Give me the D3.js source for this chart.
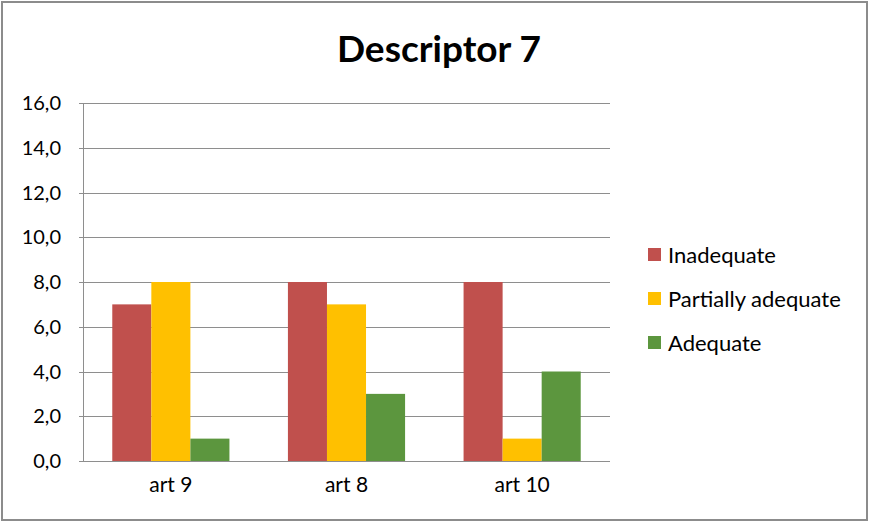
<!DOCTYPE html>
<html>
<head>
<meta charset="utf-8">
<script src="https://cdn.jsdelivr.net/npm/d3@7"></script>
<style>
  body { margin: 0; background: #fff; }
  text { font-family: Lato, "Open Sans", sans-serif; fill: #000; }
</style>
</head>
<body>
<svg id="chart" width="869" height="523"></svg>
<script>
var categories = ["art 9", "art 8", "art 10"];
var seriesNames = ["Inadequate", "Partially adequate", "Adequate"];
var inadequate = [7, 8, 8];
var partially = [8, 7, 1];
var adequate = [1, 3, 4];
var yTicks = [0, 2, 4, 6, 8, 10, 12, 14, 16];
var colors = ["#c0504d", "#ffc000", "#5c963e"];

var seriesValues = [inadequate, partially, adequate];

var svg = d3.select("#chart");

// outer frame
svg.append("rect")
    .attr("x", 2).attr("y", 2)
    .attr("width", 865).attr("height", 518)
    .attr("fill", "#fff")
    .attr("stroke", "#8c8c8c")
    .attr("stroke-width", 2);

svg.append("text")
    .attr("x", 439).attr("y", 62)
    .attr("text-anchor", "middle")
    .style("font-size", "37px")
    .style("font-weight", "bold")
    .text("Descriptor 7");

var plot = {left: 83, right: 610, top: 103, bottom: 461};

var x = d3.scaleBand()
    .domain(categories)
    .range([plot.left, plot.right])
    .paddingInner(0.333)
    .paddingOuter(0.1667);

var xInner = d3.scaleBand()
    .domain(seriesNames)
    .range([0, x.bandwidth()]);

var y = d3.scaleLinear()
    .domain([0, 16])
    .range([plot.bottom, plot.top]);

// gridlines
svg.append("g")
    .selectAll("line")
    .data(yTicks)
    .join("line")
    .attr("x1", plot.left - 4)
    .attr("x2", plot.right)
    .attr("y1", d => Math.round(y(d)) + 0.5)
    .attr("y2", d => Math.round(y(d)) + 0.5)
    .attr("stroke", "#8e8e8e")
    .attr("stroke-width", 1);

// y labels
svg.append("g")
    .selectAll("text")
    .data(yTicks)
    .join("text")
    .attr("x", 61)
    .attr("y", d => y(d) + 7)
    .attr("text-anchor", "end")
    .style("font-size", "20px")
    .text(d => d3.format(".1f")(d).replace(".", ","));

// bars
var groups = svg.append("g")
    .selectAll("g")
    .data(categories)
    .join("g")
    .attr("transform", d => "translate(" + x(d) + ",0)");

groups.selectAll("rect")
    .data((c, i) => seriesNames.map((s, k) => ({name: s, value: seriesValues[k][i], k: k})))
    .join("rect")
    .attr("x", d => xInner(d.name))
    .attr("width", xInner.bandwidth())
    .attr("y", d => y(d.value))
    .attr("height", d => y(0) - y(d.value))
    .attr("fill", d => colors[d.k]);

// axis lines
svg.append("line")
    .attr("x1", plot.left + 0.5).attr("x2", plot.left + 0.5)
    .attr("y1", plot.top).attr("y2", plot.bottom)
    .attr("stroke", "#8e8e8e");

var xAxis = svg.append("g")
    .attr("transform", "translate(0," + plot.bottom + ")");
xAxis.append("line")
    .attr("x1", plot.left).attr("x2", plot.right)
    .attr("y1", 0.5).attr("y2", 0.5)
    .attr("stroke", "#8e8e8e");
xAxis.selectAll("text")
    .data(categories)
    .join("text")
    .attr("x", d => x(d) + x.bandwidth() / 2)
    .attr("y", 31)
    .attr("text-anchor", "middle")
    .style("font-size", "21px")
    .text(d => d);

// legend
var legend = svg.append("g")
    .selectAll("g")
    .data(seriesNames)
    .join("g")
    .attr("transform", (d, i) => "translate(648," + (255 + i * 44) + ")");
legend.append("rect")
    .attr("x", 0).attr("y", -7)
    .attr("width", 13).attr("height", 13)
    .attr("fill", (d, i) => colors[i]);
legend.append("text")
    .attr("x", 20).attr("y", 8)
    .style("font-size", "22px")
    .text(d => d);
</script>
</body>
</html>
